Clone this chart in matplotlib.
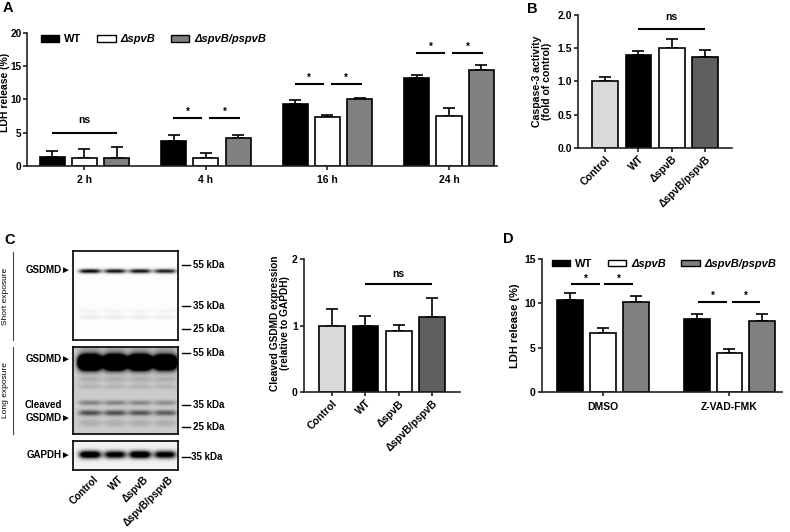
import numpy as np
import matplotlib
matplotlib.use('Agg')
import matplotlib.pyplot as plt
from matplotlib.patches import Patch

# ---- data ----
times = ['2 h', '4 h', '16 h', '24 h']
a_wt = [1.25, 3.7, 9.35, 13.2]
a_wt_err = [1.0, 0.9, 0.6, 0.5]
a_ko = [1.1, 1.1, 7.4, 7.5]
a_ko_err = [1.45, 0.8, 0.25, 1.2]
a_comp = [1.2, 4.1, 10.0, 14.4]
a_comp_err = [1.6, 0.6, 0.25, 0.8]

groups4 = ['Control', 'WT', 'ΔspvB', 'ΔspvB/pspvB']
casp3 = [1.0, 1.40, 1.50, 1.37]
casp3_err = [0.06, 0.05, 0.14, 0.10]

gsdmd = [1.0, 1.0, 0.91, 1.13]
gsdmd_err = [0.25, 0.15, 0.10, 0.29]

treat = ['DMSO', 'Z-VAD-FMK']
d_wt = [10.4, 8.25]
d_wt_err = [0.75, 0.5]
d_ko = [6.67, 4.42]
d_ko_err = [0.6, 0.46]
d_comp = [10.2, 8.0]
d_comp_err = [0.64, 0.75]

# western blot bands: y position (px inside panel), width, darkness per lane
lane_x = [17, 42, 67, 92]
short_y = [20, 60, 66]
short_sig = [1.5, 1.5, 1.5]
short_dark = [[1.0, 0.95, 0.95, 0.9], [0.04, 0.04, 0.04, 0.04], [0.07, 0.07, 0.07, 0.06]]
long_y = [3, 16, 33, 40, 56, 66, 76]
long_sig = [2.0, 4.8, 2.0, 2.0, 1.8, 2.0, 2.5]
long_dark = [[0.12] * 4, [3.0, 3.0, 3.0, 2.6], [0.12] * 4, [0.1] * 4,
             [0.3, 0.3, 0.28, 0.25], [0.5, 0.5, 0.48, 0.45], [0.12] * 4]
gapdh_y = [14]
gapdh_sig = [2.6]
gapdh_dark = [[1.3, 1.1, 1.3, 1.1]]

W, H = 790, 532
plt.rcParams['font.family'] = ['Liberation Sans', 'DejaVu Sans']
plt.rcParams['font.weight'] = 'bold'
plt.rcParams['axes.labelweight'] = 'bold'

c_black, c_white, c_gray = 'black', 'white', '#808080'
c_light, c_dark = '#d9d9d9', '#5f5f5f'

fig = plt.figure(figsize=(7.9, 5.32), dpi=100)


def px_axes(x0, y0, x1, y1):
    return fig.add_axes([x0 / W, 1 - y1 / H, (x1 - x0) / W, (y1 - y0) / H])


def ftext(x, y, s, **kw):
    fig.text(x / W, 1 - y / H, s, **kw)


def style(ax):
    for s in ['top', 'right']:
        ax.spines[s].set_visible(False)
    for s in ['left', 'bottom']:
        ax.spines[s].set_linewidth(1.2)
        ax.spines[s].set_color('#222222')
    ax.tick_params(width=1.2, length=3, labelsize=7.5, pad=1.5, color='#222222')


def bars(ax, x, vals, errs, color, width):
    ax.errorbar(x, vals, yerr=[np.zeros(len(vals)), errs], fmt='none', ecolor='k',
                elinewidth=1.2, capsize=4.5, capthick=1.2, zorder=1)
    ax.bar(x, vals, width, color=color, edgecolor='k', linewidth=1.2, zorder=2)


def sig(ax, x1, x2, y, txt, off=2, fs=7):
    ax.plot([x1, x2], [y, y], color='k', lw=1.5, solid_capstyle='butt', clip_on=False)
    ax.annotate(txt, xy=((x1 + x2) / 2, y), xytext=(0, off), textcoords='offset points',
                ha='center', va='baseline', fontsize=fs, annotation_clip=False)


def legend3(ax, x_anchor, y_anchor):
    handles = [Patch(facecolor=c, edgecolor='k', linewidth=1) for c in (c_black, c_white, c_gray)]
    leg = ax.legend(handles, ['WT', 'ΔspvB', 'ΔspvB/pspvB'], ncol=3, loc='upper left',
                    bbox_to_anchor=(x_anchor, y_anchor), frameon=False, fontsize=8,
                    handlelength=1.65, handleheight=0.55, handletextpad=0.45,
                    columnspacing=1.4, borderaxespad=0, borderpad=0)
    for t in leg.get_texts()[1:]:
        t.set_style('italic')


# ---- Panel A ----
axA = px_axes(27, 33, 497, 165.7)
style(axA)
xa = np.arange(len(times))
off_a, bw_a = 0.266, 0.206
bars(axA, xa - off_a, a_wt, a_wt_err, c_black, bw_a)
bars(axA, xa, a_ko, a_ko_err, c_white, bw_a)
bars(axA, xa + off_a, a_comp, a_comp_err, c_gray, bw_a)
axA.set_xlim(-0.473, 3.395)
axA.set_ylim(0, 20)
axA.set_yticks([0, 5, 10, 15, 20])
axA.set_xticks(xa)
axA.set_xticklabels(times, fontsize=7.5)
axA.tick_params(axis='x', pad=4)
axA.tick_params(axis='y', labelsize=7.2, pad=1)
axA.set_ylabel('LDH release (%)', fontsize=7.5)
axA.yaxis.set_label_coords(-0.037, 0.55)
legend3(axA, 0.03, 0.99)
sig(axA, -0.266, 0.266, 5.0, 'ns', off=6.5, fs=7.5)
for g, yl in zip([1, 2, 3], [7.25, 12.3, 17.0]):
    sig(axA, g - 0.27, g - 0.03, yl, '*', fs=7)
    sig(axA, g + 0.025, g + 0.28, yl, '*', fs=7)

# ---- Panel B ----
axB = px_axes(578, 15, 732, 147.7)
style(axB)
xb = np.arange(len(groups4))
bars(axB, xb, casp3, casp3_err, [c_light, c_black, c_white, c_dark], 0.77)
axB.set_xlim(-0.81, 3.81)
axB.set_ylim(0, 2.0)
axB.set_yticks([0, 0.5, 1.0, 1.5, 2.0])
axB.set_yticklabels(['0.0', '0.5', '1.0', '1.5', '2.0'])
axB.set_xticks(xb)
axB.set_xticklabels(groups4, rotation=45, ha='right', rotation_mode='anchor', fontsize=7.5)
axB.set_ylabel('Caspase-3 activity\n(fold of control)', fontsize=7.6, linespacing=1.0)
axB.yaxis.set_label_coords(-0.17, 0.5)
sig(axB, 1, 3, 1.79, 'ns', off=6.5, fs=7.5)

# ---- Panel C bar chart ----
axC = px_axes(304, 259, 460, 392)
style(axC)
bars(axC, xb, gsdmd, gsdmd_err, [c_light, c_black, c_white, c_dark], 0.77)
axC.set_xlim(-0.84, 3.84)
axC.set_ylim(0, 2)
axC.set_yticks([0, 1, 2])
axC.set_xticks(xb)
axC.set_xticklabels(groups4, rotation=45, ha='right', rotation_mode='anchor', fontsize=7.5)
axC.set_ylabel('Cleaved GSDMD expression\n(relative to GAPDH)', fontsize=7.3, linespacing=1.0)
axC.yaxis.set_label_coords(-0.09, 0.52)
sig(axC, 1, 3, 1.62, 'ns', off=5.5, fs=7.5)

# ---- Panel D ----
axD = px_axes(542, 259, 782, 392)
style(axD)
xd = np.arange(len(treat))
off_d, bw_d = 0.26, 0.205
bars(axD, xd - off_d, d_wt, d_wt_err, c_black, bw_d)
bars(axD, xd, d_ko, d_ko_err, c_white, bw_d)
bars(axD, xd + off_d, d_comp, d_comp_err, c_gray, bw_d)
axD.set_xlim(-0.482, 1.415)
axD.set_ylim(0, 15)
axD.set_yticks([0, 5, 10, 15])
axD.set_xticks(xd)
axD.set_xticklabels(treat, fontsize=7.5)
axD.tick_params(axis='x', pad=4)
axD.set_ylabel('LDH release (%)', fontsize=8)
axD.yaxis.set_label_coords(-0.092, 0.5)
legend3(axD, 0.04, 1.0)
sig(axD, -0.25, -0.025, 12.15, '*')
sig(axD, 0.01, 0.24, 12.15, '*')
sig(axD, 0.75, 0.98, 10.15, '*')
sig(axD, 1.02, 1.24, 10.15, '*')


# ---- Panel C blots ----
def blot(x0, y0, x1, y1, bg, band_y, band_sig, band_dark, hw):
    w, h = x1 - x0, y1 - y0
    ax = px_axes(x0, y0, x1, y1)
    yy, xx = np.mgrid[0:h:0.25, 0:w:0.25]
    absorb = np.zeros_like(xx)
    for yc, s, dk in zip(band_y, band_sig, band_dark):
        for lx, d in zip(lane_x, dk):
            absorb += d * np.exp(-0.5 * ((yy - yc) / s) ** 2) * np.exp(-((xx - lx) / hw) ** 4)
    img = np.clip(bg - absorb, 0, 1)
    ax.imshow(img, cmap='gray', vmin=0, vmax=1, extent=(0, w, h, 0), aspect='auto',
              interpolation='bilinear')
    ax.set_xticks([])
    ax.set_yticks([])
    for s in ax.spines.values():
        s.set_linewidth(1.2)
    return ax


blot(73, 251, 178, 340, 0.99, short_y, short_sig, short_dark, 11)
blot(73, 347, 178, 434, 0.80, long_y, long_sig, long_dark, 11.5)
blot(73, 441, 178, 470, 0.95, gapdh_y, gapdh_sig, gapdh_dark, 11)

fs_blot = 7
for yy_, lab in [(270, 'GSDMD►'), (359, 'GSDMD►'), (418, 'GSDMD►'), (455, 'GAPDH►')]:
    ftext(71, yy_, lab, ha='right', va='center', fontsize=fs_blot)
ftext(25, 405, 'Cleaved', ha='left', va='center', fontsize=fs_blot)
for yy_, lab in [(265, '55 kDa'), (306, '35 kDa'), (329, '25 kDa'),
                 (353, '55 kDa'), (405, '35 kDa'), (427, '25 kDa')]:
    fig.add_artist(plt.Line2D([182 / W, 190 / W], [1 - yy_ / H] * 2, color='k', lw=1.0))
    ftext(193, yy_, lab, ha='left', va='center', fontsize=fs_blot)
fig.add_artist(plt.Line2D([182 / W, 190 / W], [1 - 457 / H] * 2, color='k', lw=1.0))
ftext(191, 457, '35 kDa', ha='left', va='center', fontsize=fs_blot)

for ya, yb in [(252, 340), (347, 434)]:
    fig.add_artist(plt.Line2D([13 / W, 13 / W], [1 - ya / H, 1 - yb / H], color='#444444', lw=0.8))
ftext(6, 296, 'Short exposure', rotation=90, ha='center', va='center', fontsize=6, fontweight='normal')
ftext(6, 390, 'Long exposure', rotation=90, ha='center', va='center', fontsize=6, fontweight='normal')

for lx, lab in zip(lane_x, groups4):
    fig.text((73 + lx + 3) / W, 1 - 474 / H, lab, rotation=45, ha='right', va='top',
             rotation_mode='anchor', fontsize=7.3)

# panel letters
ftext(3, 1, 'A', ha='left', va='top', fontsize=10.5)
ftext(527, 2, 'B', ha='left', va='top', fontsize=10.5)
ftext(4, 233, 'C', ha='left', va='top', fontsize=10.5)
ftext(503, 232, 'D', ha='left', va='top', fontsize=10.5)

fig.savefig('out.png', dpi=100)
